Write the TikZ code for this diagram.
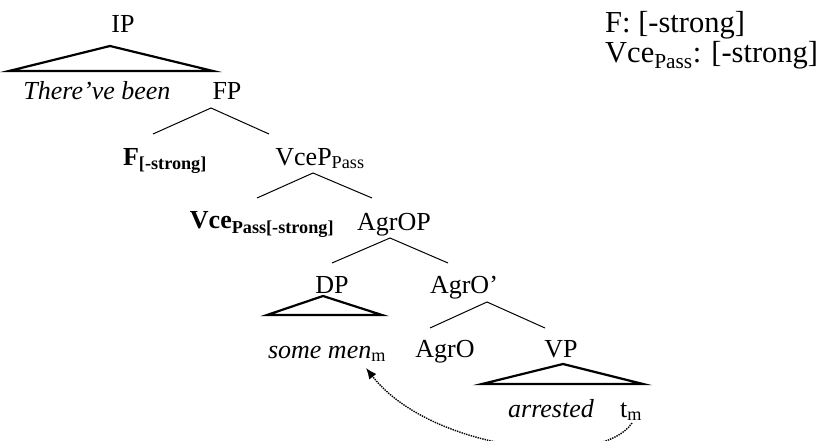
\documentclass[tikz,border=0pt]{standalone}
\usepackage{fontspec}
\setmainfont{Liberation Serif}
\usetikzlibrary{arrows.meta}
\begin{document}
\begin{tikzpicture}[x=1pt,y=-1pt,
  lbl/.style={anchor=base,inner sep=0pt,font=\fontsize{26}{30}\selectfont},
  note/.style={anchor=base west,inner sep=0pt,font=\fontsize{30.5}{34}\selectfont},
  branch/.style={line width=1pt},
  tri/.style={line width=2.2pt,line join=miter},
  move/.style={densely dotted,line width=1.4pt,-{Latex[length=11pt,width=9pt]}}]
\useasboundingbox (0,0) rectangle (825,441);

% labels
\node[lbl] (ip) at (123,33) {IP};
\node[lbl] (there) at (97,100) {\itshape There’ve been};
\node[lbl] (fp) at (227,100) {FP};
\node[lbl] (f) at (165,165) {\bfseries F\textsubscript{[-strong]}};
\node[lbl] (vcep) at (320,165) {VceP\textsubscript{Pass}};
\node[lbl] (vce) at (262,229) {\bfseries Vce\textsubscript{Pass[-strong]}};
\node[lbl] (agrop) at (394,230) {AgrOP};
\node[lbl] (dp) at (332,293) {DP};
\node[lbl] (agrobar) at (464,293) {AgrO’};
\node[lbl] (some) at (327,358) {\itshape some men\textsubscript{\upshape m}};
\node[lbl] (agro) at (445,357) {AgrO};
\node[lbl] (vp) at (561,357) {VP};
\node[lbl] (arr) at (551,417) {\itshape arrested};
\node[lbl] (tm) at (631,417) {t\textsubscript{m}};

\node[note] (n1) at (605,33) {F: [-strong]};
\node[note] (n2) at (605,63) {Vce\textsubscript{Pass}: [-strong]};

% triangles
\coordinate (ipA) at (110,46); \coordinate (ipL) at (9,71); \coordinate (ipR) at (213,71);
\draw[tri] (ipA) -- (ipL) -- (ipR) -- cycle;
\coordinate (dpA) at (323,296); \coordinate (dpL) at (267,315); \coordinate (dpR) at (382,315);
\draw[tri] (dpA) -- (dpL) -- (dpR) -- cycle;
\coordinate (vpA) at (563,364); \coordinate (vpL) at (482,384); \coordinate (vpR) at (643,384);
\draw[tri] (vpA) -- (vpL) -- (vpR) -- cycle;

% branches
\coordinate (fpA) at (211,108); \coordinate (fpL) at (153,134); \coordinate (fpR) at (269,134);
\draw[branch] (fpL) -- (fpA) -- (fpR);
\coordinate (vcepA) at (313,173); \coordinate (vcepL) at (257,198); \coordinate (vcepR) at (372,198);
\draw[branch] (vcepL) -- (vcepA) -- (vcepR);
\coordinate (agropA) at (390,238); \coordinate (agropL) at (332,263); \coordinate (agropR) at (448,263);
\draw[branch] (agropL) -- (agropA) -- (agropR);
\coordinate (agrobA) at (487,302); \coordinate (agrobL) at (430,328); \coordinate (agrobR) at (545,328);
\draw[branch] (agrobL) -- (agrobA) -- (agrobR);

% movement
\coordinate (mvS) at (632,423);
\coordinate (mvE) at (366,368);
\draw[move] (mvS) .. controls (600,470) and (430,450) .. (mvE);
\end{tikzpicture}
\end{document}
